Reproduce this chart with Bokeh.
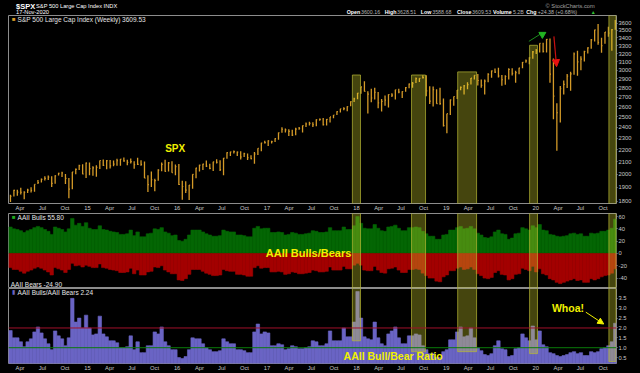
import pandas as pd
from bokeh.plotting import figure
from bokeh.layouts import column
from bokeh.models import (Range1d, FixedTicker, LinearAxis, Label, Arrow, NormalHead, Span,
                          NumeralTickFormatter, ColumnDataSource, GlobalInlineStyleSheet)
from bokeh.embed import file_html
from bokeh.resources import INLINE

first_sample = "2014-02-21"
n_samples = 177

spx_close = [1836, 1878, 1866, 1865, 1864, 1881, 1878, 1924, 1937, 1961, 1968, 1978, 1931, 1988, 2008, 2010, 1968, 1887, 2018, 2039, 2068, 2002, 2088,
             2044, 2051, 2055, 2110, 2071, 2108, 2067, 2081, 2108, 2122, 2107, 2094, 2101, 2077, 2079, 2078, 1971, 1921, 1958, 1951, 2033, 2079, 2023, 2090, 2012, 2061,
             1922, 1907, 1880, 1918, 1999, 2049, 2073, 2081, 2065, 2047, 2099, 2096, 2037, 2130, 2175, 2183, 2184, 2180, 2139, 2168, 2133, 2126, 2164, 2213, 2259, 2263,
             2277, 2271, 2297, 2351, 2383, 2378, 2363, 2329, 2384, 2391, 2416, 2432, 2438, 2425, 2473, 2476, 2426, 2477, 2500, 2519, 2553, 2581, 2582, 2602, 2652, 2683,
             2743, 2810, 2762, 2732, 2691, 2752, 2641, 2656, 2670, 2728, 2721, 2779, 2755, 2760, 2802, 2840, 2850, 2902, 2905, 2914, 2767, 2659, 2781, 2633, 2633, 2417,
             2532, 2671, 2707, 2776, 2804, 2822, 2834, 2907, 2940, 2881, 2826, 2873, 2950, 2990, 2977, 2932, 2889, 2926, 3007, 2961, 2970, 3023, 3093, 3110, 3146, 3221,
             3235, 3330, 3226, 3380, 2954, 2711, 2541, 2790, 2837, 2930, 2955, 3194, 3098, 3130, 3225, 3271, 3373, 3508, 3341, 3298, 3477, 3465, 3510, 3610]
spx_high = [1847, 1884, 1884, 1897, 1872, 1891, 1902, 1924, 1955, 1968, 1985, 1991, 1984, 1993, 2011, 2019, 2002, 1971, 2018, 2046, 2075, 2079, 2094,
            2093, 2064, 2072, 2110, 2119, 2114, 2114, 2111, 2125, 2123, 2134, 2116, 2127, 2105, 2133, 2113, 2102, 1993, 2021, 1966, 2039, 2094, 2116, 2097, 2104, 2077,
            2082, 1950, 1947, 1918, 2000, 2052, 2075, 2084, 2111, 2084, 2100, 2120, 2113, 2131, 2178, 2183, 2193, 2186, 2187, 2175, 2169, 2154, 2182, 2214, 2261, 2278,
            2283, 2279, 2301, 2352, 2401, 2390, 2382, 2378, 2398, 2405, 2418, 2446, 2454, 2450, 2477, 2484, 2490, 2480, 2500, 2519, 2557, 2582, 2597, 2605, 2657, 2695,
            2743, 2810, 2873, 2763, 2790, 2801, 2755, 2680, 2718, 2732, 2742, 2779, 2791, 2764, 2809, 2848, 2863, 2916, 2906, 2941, 2939, 2816, 2815, 2785, 2800, 2685,
            2532, 2675, 2708, 2776, 2813, 2830, 2860, 2910, 2940, 2954, 2892, 2891, 2964, 2996, 3018, 3028, 2944, 2940, 3021, 3022, 2993, 3027, 3097, 3127, 3154, 3231,
            3258, 3330, 3338, 3385, 3393, 3137, 2637, 2819, 2880, 2955, 2981, 3211, 3233, 3165, 3233, 3279, 3387, 3509, 3588, 3402, 3478, 3550, 3521, 3645]
spx_low = [1795, 1834, 1839, 1849, 1814, 1859, 1863, 1868, 1925, 1937, 1952, 1955, 1904, 1928, 1990, 1978, 1926, 1821, 1887, 2001, 2034, 2000, 1972,
           1992, 1988, 1981, 2042, 2066, 2039, 2045, 2064, 2067, 2067, 2099, 2072, 2086, 2044, 2074, 2068, 1971, 1867, 1903, 1872, 1950, 2024, 2019, 2022, 2011, 1993,
           1918, 1812, 1860, 1810, 1891, 1969, 2022, 2033, 2058, 2039, 2026, 2086, 2025, 1992, 2125, 2148, 2168, 2147, 2119, 2139, 2114, 2120, 2084, 2156, 2187, 2254,
           2233, 2254, 2267, 2288, 2351, 2354, 2322, 2322, 2328, 2378, 2353, 2405, 2419, 2405, 2412, 2463, 2417, 2417, 2446, 2487, 2520, 2544, 2566, 2557, 2605, 2650,
           2677, 2737, 2759, 2533, 2647, 2676, 2585, 2553, 2612, 2594, 2701, 2676, 2742, 2691, 2758, 2795, 2802, 2853, 2864, 2904, 2710, 2628, 2604, 2631, 2621, 2409,
           2346, 2520, 2612, 2681, 2774, 2728, 2785, 2836, 2892, 2825, 2801, 2729, 2860, 2912, 2966, 2914, 2822, 2834, 2892, 2938, 2855, 2953, 3021, 3087, 3070, 3135,
           3195, 3214, 3214, 3214, 2855, 2478, 2192, 2447, 2727, 2797, 2767, 2945, 2936, 2999, 3101, 3201, 3260, 3354, 3310, 3209, 3323, 3415, 3233, 3511]

aaii_bulls = [43, 40, 39, 37, 34, 37, 39, 42, 44, 42, 39, 36, 31, 43, 41, 39, 35, 40, 57, 46, 49, 44, 50,
              41, 39, 39, 45, 39, 38, 36, 35, 34, 31, 31, 32, 38, 29, 35, 27, 27, 32, 33, 40, 39, 42, 35, 33, 29, 30,
              21, 20, 23, 30, 38, 38, 38, 35, 32, 30, 28, 28, 29, 38, 36, 35, 35, 30, 30, 29, 27, 27, 41, 44, 40, 41,
              41, 34, 34, 35, 34, 30, 31, 34, 33, 31, 31, 32, 33, 37, 36, 34, 34, 35, 42, 37, 37, 37, 43, 39, 39, 45,
              60, 49, 41, 40, 40, 47, 41, 37, 36, 43, 44, 46, 41, 37, 37, 42, 42, 43, 42, 36, 32, 28, 28, 23, 23, 30,
              31, 38, 38, 42, 44, 40, 41, 44, 40, 33, 30, 26, 25, 27, 35, 38, 32, 31, 23, 25, 32, 33, 42, 40, 38, 45,
              42, 47, 38, 37, 31, 30, 28, 27, 28, 29, 32, 33, 31, 32, 28, 28, 33, 32, 33, 36, 36, 38, 41, 55.8]
aaii_bears = [23, 26, 26, 29, 32, 29, 27, 24, 22, 24, 27, 30, 35, 23, 25, 27, 31, 26, 16, 20, 19, 22, 19,
              21, 23, 23, 17, 23, 24, 26, 27, 28, 31, 31, 30, 24, 33, 27, 35, 35, 30, 29, 22, 23, 20, 27, 30, 33, 33,
              43, 44, 41, 34, 26, 26, 26, 29, 32, 34, 36, 36, 35, 26, 28, 29, 29, 34, 34, 35, 37, 37, 23, 20, 24, 23,
              23, 30, 30, 29, 30, 34, 33, 30, 31, 33, 33, 32, 31, 27, 28, 30, 30, 29, 22, 27, 27, 27, 21, 25, 25, 19,
              16, 19, 27, 28, 28, 21, 27, 31, 32, 25, 24, 22, 27, 31, 31, 26, 26, 25, 26, 32, 36, 40, 40, 45, 46, 38,
              35, 28, 28, 24, 22, 26, 25, 22, 26, 33, 36, 40, 41, 39, 31, 28, 34, 35, 43, 41, 34, 33, 24, 26, 28, 21,
              30, 25, 33, 35, 41, 43, 47, 49, 47, 45, 43, 41, 44, 43, 47, 47, 41, 43, 41, 38, 36, 35, 32, 24.9]
bull_bear_ratio = [1.87, 1.5, 1.5, 1.3, 1.05, 1.3, 1.45, 1.8, 2.05, 1.75, 1.45, 1.2, 0.9, 1.85, 1.6, 1.45, 1.1, 1.5, 3.5, 2.3, 2.5, 2.0, 2.65,
                   2.0, 1.65, 1.7, 2.6, 1.7, 1.55, 1.35, 1.35, 1.25, 1.0, 1.0, 1.05, 1.6, 0.9, 1.3, 0.75, 0.75, 1.1, 1.1, 1.8, 1.7, 2.05, 1.3, 1.1, 0.9, 0.9,
                   0.5, 0.45, 0.55, 0.9, 1.5, 1.45, 1.45, 1.2, 1.0, 0.9, 0.8, 0.8, 0.85, 1.45, 1.3, 1.2, 1.2, 0.9, 0.9, 0.85, 0.75, 0.75, 1.8, 2.2, 1.7, 1.8,
                   1.75, 1.1, 1.1, 1.2, 1.15, 0.9, 0.95, 1.1, 1.05, 0.95, 0.95, 1.0, 1.05, 1.35, 1.3, 1.1, 1.1, 1.2, 1.85, 1.35, 1.35, 1.35, 2.0, 1.55, 1.55, 2.3,
                   3.85, 2.5, 1.55, 1.45, 1.4, 2.3, 1.5, 1.2, 1.1, 1.7, 1.85, 2.05, 1.5, 1.2, 1.2, 1.6, 1.6, 1.7, 1.65, 1.1, 0.9, 0.7, 0.7, 0.5, 0.5, 0.8,
                   0.9, 1.4, 1.4, 1.8, 2.05, 1.55, 1.6, 2.0, 1.5, 1.0, 0.85, 0.65, 0.6, 0.7, 1.1, 1.35, 0.95, 0.9, 0.55, 0.6, 0.95, 1.0, 1.7, 1.5, 1.35, 2.1,
                   1.4, 1.85, 1.15, 1.05, 0.75, 0.7, 0.6, 0.55, 0.6, 0.65, 0.75, 0.8, 0.7, 0.75, 0.6, 0.6, 0.8, 0.75, 0.8, 0.95, 1.0, 1.1, 1.3, 2.24]

band_starts = ["2017-12-15", "2018-08-13", "2019-02-17", "2019-12-07", "2020-10-25"]
band_ends = ["2018-01-17", "2018-10-09", "2019-05-05", "2020-01-08", "2020-11-23"]
band_price_top = [2943, 2943, 2979, 3304, 4000]
band_ratio_bottom = [1.35, 0.8, 0.8, 0.7, 0.3]

price_ticks = list(range(1800, 3700, 100))
sentiment_ticks = [-40, -20, 0, 20, 40, 60]
ratio_ticks = [0.5, 1.0, 1.5, 2.0, 2.5, 3.0, 3.5]

ohlc_names = ["Open", "High", "Low", "Close", "Volume", "Chg"]
ohlc_values = ["3600.16", "3628.51", "3588.68", "3609.53", "5.2B", "+24.38 (+0.68%)"]

for arr in (spx_close, spx_high, spx_low, aaii_bulls, aaii_bears, bull_bear_ratio):
    assert len(arr) == n_samples, len(arr)


def ms(s):
    return pd.Timestamp(s).value / 1e6


DAY = 86400000.0
dates = pd.date_range(first_sample, periods=n_samples, freq="14D")
xs = [d.value / 1e6 for d in dates]

tick_dates = pd.date_range("2014-04-01", "2020-10-01", freq="QS")
tick_ms = [d.value / 1e6 for d in tick_dates]
tick_labels = {t: (d.strftime("%y") if d.month == 1 else d.strftime("%b")) for t, d in zip(tick_ms, tick_dates)}

# ---------------- styling ----------------
W = 640
LB = 8
RB = 24
FONT = "Liberation Sans"
BG = "black"
FRAME = "#8c8c8c"
AXIS_TXT = "#c8c8c8"
PRICE = "#d49a28"
GREEN = "#046604"
RED = "#a30000"
PURPLE = "#6a64c4"
BAND = "#e6e62e"
BAND_EDGE = "#b8b834"
YELLOW = "#f0f000"

xr = Range1d(ms("2014-02-13"), ms("2020-11-25"))


def panel(height, y_range, y_type="linear", bottom=0):
    p = figure(width=W, height=height, x_range=xr, y_range=y_range, y_axis_type=y_type,
               x_axis_location=None, y_axis_location=None, toolbar_location=None,
               output_backend="svg", min_border_left=LB, min_border_right=RB,
               min_border_top=0, min_border_bottom=bottom,
               background_fill_color=BG, border_fill_color=BG,
               outline_line_color=FRAME, outline_line_width=1)
    p.xgrid.visible = False
    p.ygrid.visible = False
    return p


def style_axis(ax):
    ax.axis_line_color = None
    ax.major_tick_line_color = "#9a9a9a"
    ax.major_tick_out = 1
    ax.major_tick_in = 0
    ax.minor_tick_line_color = None
    ax.major_label_text_color = AXIS_TXT
    ax.major_label_text_font = FONT
    ax.major_label_text_font_size = "5.8px"
    ax.major_label_standoff = 1


def right_axis(p, ticks, fmt):
    ax = LinearAxis(ticker=FixedTicker(ticks=ticks), formatter=NumeralTickFormatter(format=fmt))
    style_axis(ax)
    p.add_layout(ax, "right")


def bottom_axis(p):
    ax = LinearAxis(ticker=FixedTicker(ticks=tick_ms), major_label_overrides=tick_labels)
    style_axis(ax)
    ax.major_tick_out = 0
    ax.major_label_standoff = 1
    p.add_layout(ax, "below")


def lab(p, x, y, text, color="white", size="6.5px", bold=False, align="left"):
    p.add_layout(Label(x=x, y=y, text=text, text_color=color, text_font=FONT,
                       text_font_size=size, text_font_style="bold" if bold else "normal",
                       text_align=align, text_baseline="middle"))


band_l = [ms(s) for s in band_starts]
band_r = [ms(s) for s in band_ends]

# ---------------- header ----------------
hdr = figure(width=W, height=15, x_range=Range1d(0, W), y_range=Range1d(0, 15),
             x_axis_location=None, y_axis_location=None, toolbar_location=None,
             output_backend="svg", min_border=0, background_fill_color=BG,
             border_fill_color=BG, outline_line_color=None)
hdr.xgrid.visible = False
hdr.ygrid.visible = False
lab(hdr, 8, 9.4, "$SPX", size="7.5px", bold=True)
lab(hdr, 29, 9.6, "S&P 500 Large Cap Index  INDX", size="5.7px")
lab(hdr, 8, 3.6, "17-Nov-2020", size="5.7px")
lab(hdr, 617, 9.8, "© StockCharts.com", color="#a0a0a0", size="5.7px", align="right")
name_x = [356, 396, 434, 472, 510, 545]
value_x = [371, 409, 446, 488, 531, 557]
for nm, vl, nx, vx in zip(ohlc_names, ohlc_values, name_x, value_x):
    lab(hdr, nx, 3.2, nm, size="5.3px", bold=True)
    lab(hdr, vx, 3.2, vl, color="#b4b4b4", size="5.3px")
lab(hdr, 613, 3.2, "▲", color="#30c030", size="5px")

# ---------------- price panel ----------------
p1 = panel(198, Range1d(1785, 3710), "log", bottom=8)
src = ColumnDataSource(dict(x=xs, xc=[v + 4 * DAY for v in xs], hi=spx_high, lo=spx_low, cl=spx_close))
p1.segment(x0="x", y0="lo", x1="x", y1="hi", source=src, line_color=PRICE, line_width=1.3)
p1.segment(x0="x", y0="cl", x1="xc", y1="cl", source=src, line_color=PRICE, line_width=1.2)
p1.quad(left=band_l, right=band_r, bottom=[1000] * 5, top=band_price_top,
        fill_color=BAND, fill_alpha=0.3, line_color=BAND_EDGE, line_alpha=0.7)
right_axis(p1, price_ticks, "0")
bottom_axis(p1)
lab(p1, ms("2014-02-27"), 3655, "■", color=PRICE, size="6px")
lab(p1, ms("2014-03-22"), 3655, "S&P 500 Large Cap Index (Weekly) 3609.53", color="#e6e6e6")
lab(p1, ms("2015-12-24"), 2214, "SPX", color=YELLOW, size="10px", bold=True, align="center")
# green arrow
p1.segment(x0=[ms("2019-12-04")], y0=[3355], x1=[ms("2020-01-18")], y1=[3447], line_color="#1c8a1c", line_width=1)
p1.scatter(x=[ms("2020-01-28")], y=[3447], marker="inverted_triangle", size=7,
           fill_color="#22b422", line_color="#22b422")
# red arrow
p1.add_layout(Arrow(x_start=ms("2020-03-15"), y_start=3420, x_end=ms("2020-03-26"), y_end=3040,
                    line_color="#c81010", line_width=1.2,
                    end=NormalHead(size=7, fill_color="#e81010", line_color="#e81010")))

# ---------------- bulls / bears panel ----------------
p2 = panel(75, Range1d(-57, 65))
neg_bears = [-b for b in aaii_bears]
p2.vbar(x=xs, top=aaii_bulls, bottom=0, width=14 * DAY, fill_color=GREEN, line_color=GREEN, line_width=0.6)
p2.vbar(x=xs, top=0, bottom=neg_bears, width=14 * DAY, fill_color=RED, line_color=RED, line_width=0.6)
p2.quad(left=band_l, right=band_r, bottom=[-200] * 5, top=[200] * 5,
        fill_color=BAND, fill_alpha=0.3, line_color=BAND_EDGE, line_alpha=0.7)
right_axis(p2, sentiment_ticks, "0")
lab(p2, ms("2014-02-27"), 59, "■", color="#1faa1f", size="6px")
lab(p2, ms("2014-03-22"), 59, "AAII Bulls 55.80", color="#e6e6e6")
lab(p2, ms("2014-02-22"), -51, "AAII Bears -24.90", color="#e6e6e6")
lab(p2, ms("2016-12-27"), 0, "AAII Bulls/Bears", color=YELLOW, size="11px", bold=True)

# ---------------- ratio panel ----------------
p3 = panel(85, Range1d(0.2, 4.0), bottom=8)
p3.vbar(x=xs, top=bull_bear_ratio, bottom=0, width=14 * DAY, fill_color=PURPLE, line_color=PURPLE, line_width=0.6)
p3.add_layout(Span(location=2.0, dimension="width", line_color="#a0102a", line_width=1))
p3.add_layout(Span(location=1.0, dimension="width", line_color="#0a7a0a", line_width=1))
p3.quad(left=band_l, right=band_r, bottom=band_ratio_bottom, top=[10] * 5,
        fill_color=BAND, fill_alpha=0.3, line_color=BAND_EDGE, line_alpha=0.7)
right_axis(p3, ratio_ticks, "0.0")
bottom_axis(p3)
lab(p3, ms("2014-02-27"), 3.8, "▮", color=PURPLE, size="6px")
lab(p3, ms("2014-03-22"), 3.8, "AAII Bulls/AAII Bears 2.24", color="#e6e6e6")
lab(p3, ms("2017-11-09"), 0.6, "AAII Bull/Bear Ratio", color=YELLOW, size="10.5px", bold=True)
lab(p3, ms("2020-03-07"), 3.0, "Whoa!", color=YELLOW, size="10.5px", bold=True)
p3.add_layout(Arrow(x_start=ms("2020-07-23"), y_start=2.8, x_end=ms("2020-10-04"), y_end=2.2,
                    line_color=YELLOW, line_width=1,
                    end=NormalHead(size=6, fill_color=YELLOW, line_color=YELLOW)))

layout = column(hdr, p1, p2, p3,
                stylesheets=[GlobalInlineStyleSheet(css="body { background-color: #000000; }")])

open("out.html", "w").write(file_html(layout, INLINE))
